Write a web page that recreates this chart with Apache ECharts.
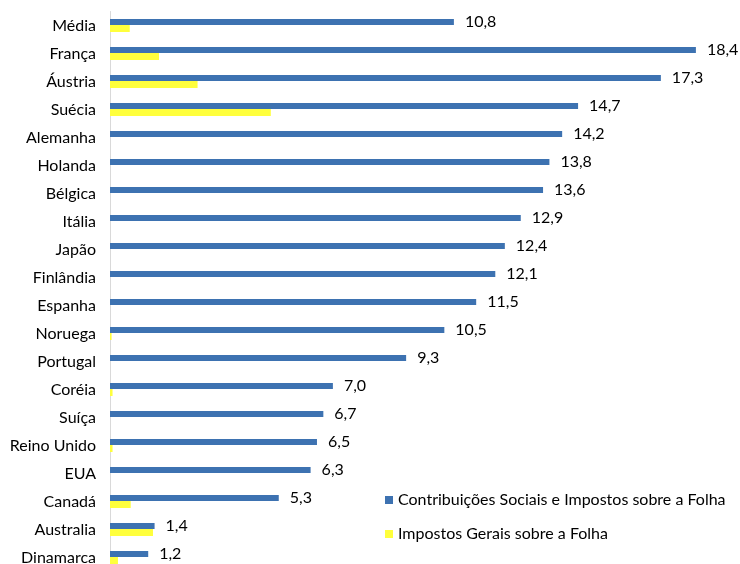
<!DOCTYPE html>
<html>
<head>
<meta charset="utf-8">
<script src="https://cdn.jsdelivr.net/npm/echarts@6/dist/echarts.min.js"></script>
<style>
  html, body { margin: 0; padding: 0; background: #fff; }
  #main { width: 740px; height: 564px; }
</style>
</head>
<body>
<div id="main"></div>
<script>
  // categorias (de cima para baixo)
  var paises = ['Média', 'França', 'Áustria', 'Suécia', 'Alemanha', 'Holanda', 'Bélgica', 'Itália', 'Japão', 'Finlândia',
    'Espanha', 'Noruega', 'Portugal', 'Coréia', 'Suíça', 'Reino Unido', 'EUA', 'Canadá', 'Australia', 'Dinamarca'];
  var contribuicoes = [10.8, 18.4, 17.3, 14.7, 14.2, 13.8, 13.6, 12.9, 12.4, 12.1,
    11.5, 10.5, 9.3, 7.0, 6.7, 6.5, 6.3, 5.3, 1.4, 1.2];
  var impostosGerais = [0.62, 1.54, 2.75, 5.05, 0, 0, 0, 0, 0, 0,
    0, 0.05, 0, 0.08, 0, 0.08, 0, 0.65, 1.35, 0.25];
  var nomesSeries = ['Contribuições Sociais e Impostos sobre a Folha', 'Impostos Gerais sobre a Folha'];

  var fonte = 'Lato';
  var myChart = echarts.init(document.getElementById('main'));
  myChart.setOption({
    animation: false,
    textStyle: { fontFamily: fonte },
    grid: { left: 110, top: 11.5, width: 605, height: 560, outerBoundsMode: 'none' },
    legend: {
      orient: 'vertical',
      left: 380,
      top: 487,
      itemWidth: 8,
      itemHeight: 8,
      itemGap: 18,
      icon: 'rect',
      textStyle: { fontFamily: fonte, fontSize: 16, color: '#000' },
      data: nomesSeries
    },
    xAxis: {
      type: 'value',
      min: 0,
      max: 19,
      show: false
    },
    yAxis: {
      type: 'category',
      inverse: true,
      data: paises,
      axisLine: { lineStyle: { color: '#d9d9d9', width: 1 } },
      axisTick: { show: false },
      axisLabel: { color: '#000', fontSize: 16, margin: 14, fontFamily: fonte }
    },
    series: [{
      name: nomesSeries[0],
      type: 'bar',
      data: contribuicoes,
      barWidth: 6,
      barGap: 0,
      itemStyle: { color: '#3d72b1' },
      label: {
        show: true,
        position: 'right',
        distance: 11,
        color: '#000',
        fontSize: 16,
        fontFamily: fonte,
        formatter: function (p) { return p.value.toFixed(1).replace('.', ','); }
      }
    }, {
      name: nomesSeries[1],
      type: 'bar',
      data: impostosGerais,
      barWidth: 7,
      barGap: 0,
      itemStyle: { color: '#ffff3c' }
    }]
  });
</script>
</body>
</html>
